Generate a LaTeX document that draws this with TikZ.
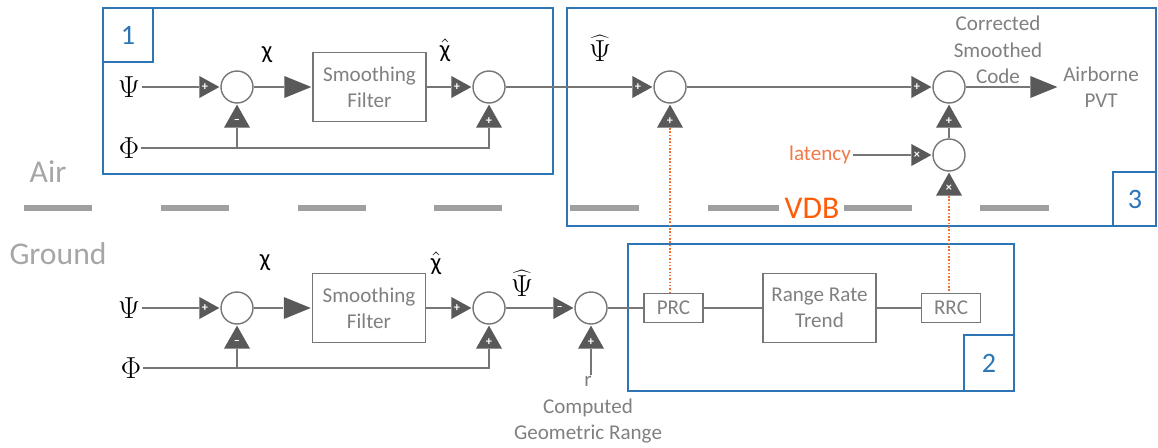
\documentclass[tikz,border=0pt]{standalone}
\usepackage{fontspec}
\setmainfont{Carlito}
\usetikzlibrary{shapes.geometric}
\definecolor{blueC}{RGB}{46,117,182}
\definecolor{lineG}{RGB}{118,118,118}
\definecolor{triG}{RGB}{89,89,89}
\definecolor{textG}{RGB}{128,128,128}
\definecolor{dashG}{RGB}{160,160,160}
\definecolor{airG}{RGB}{166,166,166}
\definecolor{vdbO}{RGB}{255,92,10}
\definecolor{latO}{RGB}{244,120,70}
\definecolor{dotO}{RGB}{240,110,50}
\begin{document}
\begin{tikzpicture}[x=0.02cm,y=-0.02cm,
  conn/.style={draw=lineG,line width=0.9pt},
  dotconn/.style={draw=dotO,line width=0.9pt,densely dotted},
  circ/.style={circle,draw=lineG,fill=white,minimum size=0.64cm,inner sep=0pt,line width=0.8pt},
  tri/.style={isosceles triangle,isosceles triangle stretches,fill=triG,draw=none,inner sep=0pt,
    font=\fontsize{7}{7}\selectfont\bfseries,text=white},
  rtri/.style={tri,minimum width=0.44cm,minimum height=0.40cm},
  utri/.style={tri,shape border rotate=90,minimum width=0.52cm,minimum height=0.46cm},
  bigtri/.style={tri,minimum width=0.44cm,minimum height=0.54cm},
  filt/.style={draw=lineG,line width=0.9pt,fill=white,minimum width=2.26cm,minimum height=1.38cm,
    align=center,text=textG,font=\fontsize{12}{15}\selectfont},
  smallbox/.style={draw=lineG,line width=0.9pt,fill=white,minimum width=1.18cm,minimum height=0.58cm,
    text=textG,font=\fontsize{12}{15}\selectfont},
  gtext/.style={text=textG,font=\fontsize{12}{15}\selectfont,align=center,inner sep=1pt},
  sym/.style={text=black,font=\fontsize{16}{18}\selectfont,inner sep=1pt},
  chis/.style={text=black,font=\fontsize{14}{16}\selectfont,inner sep=1pt},
  bluebox/.style={draw=blueC,line width=1.1pt},
  boxlabel/.style={text=blueC,font=\fontsize{16}{18}\selectfont},
  dashline/.style={draw=dashG,line width=3.4pt},
  sidetext/.style={text=airG,font=\fontsize{18}{20}\selectfont}
]
\useasboundingbox (0,0) rectangle (1158,447);

% ---- blue boxes
\draw[bluebox] (103,8) rectangle (553,174);
\draw[bluebox] (103,8) rectangle (153,62);
\node[boxlabel] (lab1) at (128,35) {1};
\draw[bluebox] (567,8) rectangle (1156,226);
\draw[bluebox] (1113,172) rectangle (1156,226);
\node[boxlabel] (lab3) at (1135,199) {3};
\draw[bluebox] (628,244) rectangle (1014,391);
\draw[bluebox] (964,335) rectangle (1014,391);
\node[boxlabel] (lab2) at (989,363) {2};

% ---- air / ground divider
\foreach \a/\b in {24/92,161/229,298/366,434/502,570/639,708/779,844/912,980/1049}
  \draw[dashline] (\a,208) -- (\b,208);
\node[text=vdbO,font=\fontsize{18}{20}\selectfont] (vdb) at (812,208) {VDB};
\node[sidetext] (air) at (48,172) {Air};
\node[sidetext] (ground) at (58,254) {Ground};

% ================= top row (air)
\node[sym] (psiA) at (129,87) {$\Psi$};
\node[sym] (phiA) at (129,148) {$\Phi$};
\node[circ] (cA1) at (237,87) {};
\node[rtri,anchor=apex] (tA1) at (cA1.west) {+};
\node[utri,anchor=apex] (uA1) at (cA1.south) {–};
\node[filt] (sfA) at (369.5,87) {Smoothing\\Filter};
\node[bigtri,anchor=apex] (bA1) at (sfA.west) {};
\node[circ] (cA2) at (489,87) {};
\node[rtri,anchor=apex] (tA2) at (cA2.west) {+};
\node[utri,anchor=apex] (uA2) at (cA2.south) {+};
\node[circ] (cA3) at (670,87) {};
\node[rtri,anchor=apex] (tA3) at (cA3.west) {+};
\node[utri,anchor=apex] (uA3) at (cA3.south) {+};
\node[circ] (cA4) at (949,87) {};
\node[rtri,anchor=apex] (tA4) at (cA4.west) {+};
\node[utri,anchor=apex] (uA4) at (cA4.south) {+};
\node[circ] (cA5) at (949,155) {};
\node[rtri,anchor=apex] (tA5) at (cA5.west) {×};
\node[utri,anchor=apex] (uA5) at (cA5.south) {×};
\node[text=latO,font=\fontsize{12}{15}\selectfont,inner sep=1pt] (lat) at (820,155) {latency};
\node[bigtri,anchor=lower side] (bA2) at (1030,87) {};
\node[gtext] (csc) at (998,50) {Corrected\\Smoothed\\Code};
\node[gtext] (pvt) at (1101,87) {Airborne\\PVT};
\node[chis] (chiA) at (267,55) {χ};
\node[chis] (chihA) at (445,50) {\ensuremath{\hat{\mbox{χ}}}};
\node[sym] (psihA) at (600,48) {$\widehat{\Psi}$};

\draw[conn] (psiA.east) -- (tA1.lower side);
\draw[conn] (cA1.east) -- (bA1.lower side);
\draw[conn] (sfA.east) -- (tA2.lower side);
\draw[conn] (cA2.east) -- (tA3.lower side);
\draw[conn] (cA3.east) -- (tA4.lower side);
\draw[conn] (cA4.east) -- (bA2.lower side);
\draw[conn] (phiA.east) -| (uA2.lower side);
\draw[conn] (uA1.lower side) -- (uA1.lower side |- phiA.east);
\draw[conn] (cA5.north) -- (uA4.lower side);
\draw[conn] (lat.east) -- (tA5.lower side);

% ================= bottom row (ground)
\node[sym] (psiB) at (129,308) {$\Psi$};
\node[sym] (phiB) at (131,368) {$\Phi$};
\node[circ] (cB1) at (237,308) {};
\node[rtri,anchor=apex] (tB1) at (cB1.west) {+};
\node[utri,anchor=apex] (uB1) at (cB1.south) {–};
\node[filt] (sfB) at (369,308) {Smoothing\\Filter};
\node[bigtri,anchor=apex] (bB1) at (sfB.west) {};
\node[circ] (cB2) at (489,308) {};
\node[rtri,anchor=apex] (tB2) at (cB2.west) {+};
\node[utri,anchor=apex] (uB2) at (cB2.south) {+};
\node[circ] (cB3) at (591,308) {};
\node[rtri,anchor=apex] (tB3) at (cB3.west) {–};
\node[utri,anchor=apex] (uB3) at (cB3.south) {+};
\node[gtext] (rng) at (588,410) {r\\Computed\\Geometric Range};
\node[smallbox] (prc) at (673.5,308) {PRC};
\node[filt] (rrt) at (819.5,308) {Range Rate\\Trend};
\node[smallbox] (rrc) at (951,308) {RRC};
\node[chis] (chiB) at (265,263) {χ};
\node[chis] (chihB) at (436,263) {\ensuremath{\hat{\mbox{χ}}}};
\node[sym] (psihB) at (522,283) {$\widehat{\Psi}$};

\draw[conn] (psiB.east) -- (tB1.lower side);
\draw[conn] (cB1.east) -- (bB1.lower side);
\draw[conn] (sfB.east) -- (tB2.lower side);
\draw[conn] (cB2.east) -- (tB3.lower side);
\draw[conn] (phiB.east) -| (uB2.lower side);
\draw[conn] (uB1.lower side) -- (uB1.lower side |- phiB.east);
\draw[conn] (uB3.lower side |- rng.north) -- (uB3.lower side);
\draw[conn] (cB3.east) -- (prc.west);
\draw[conn] (prc.east) -- (rrt.west);
\draw[conn] (rrt.east) -- (rrc.west);

% ---- VDB links
\draw[dotconn] (uA3.lower side) -- (uA3.lower side |- prc.north);
\draw[dotconn] (uA5.lower side) -- (uA5.lower side |- rrc.north);
\end{tikzpicture}
\end{document}
